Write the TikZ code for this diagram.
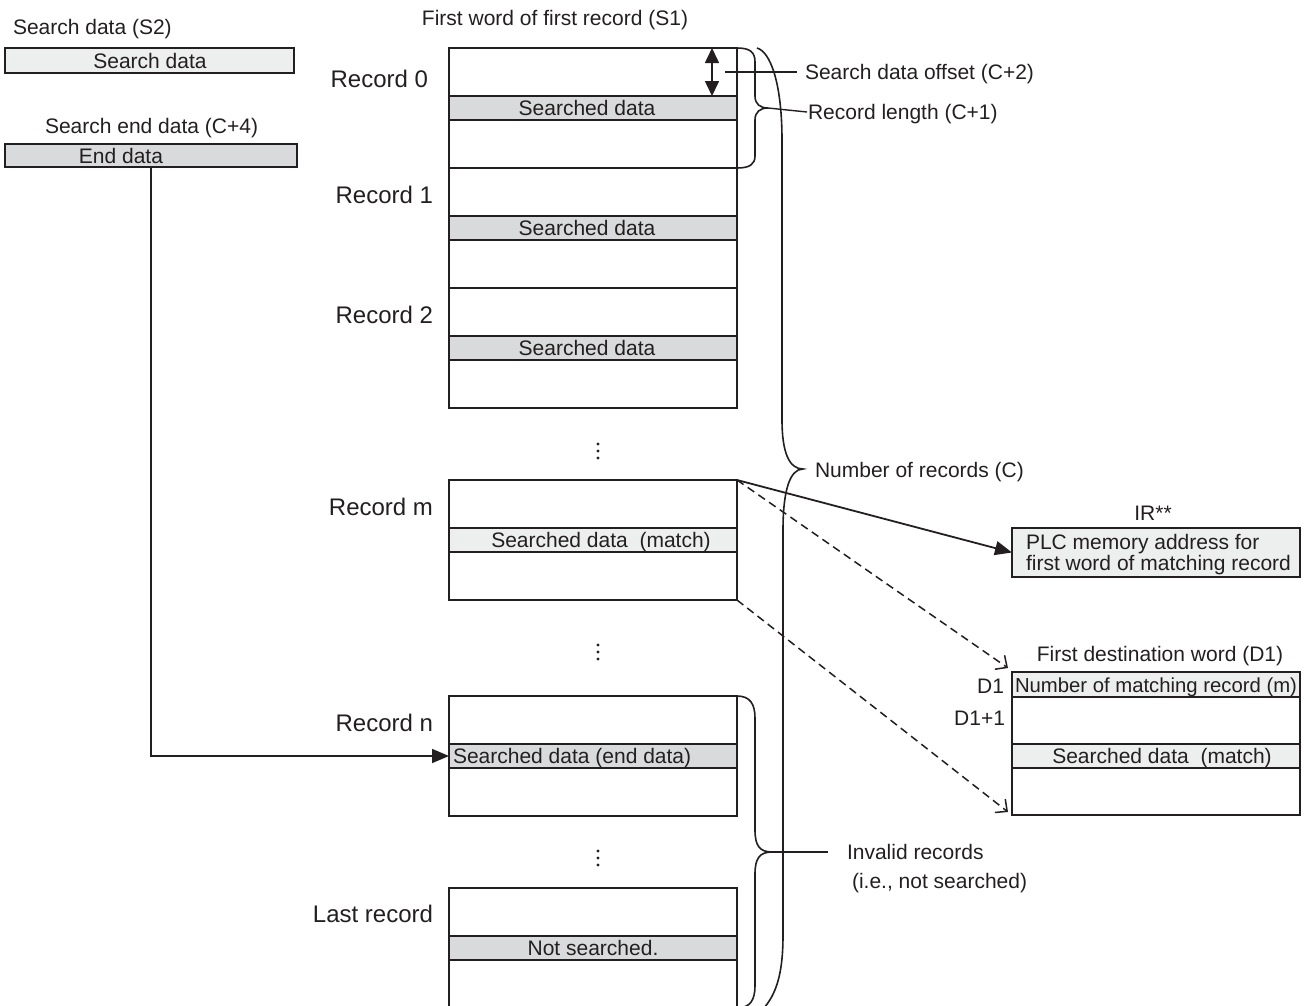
\documentclass[tikz,border=0pt]{standalone}
\usepackage{fontspec}
\setmainfont{Liberation Sans}
\usetikzlibrary{arrows.meta}
\definecolor{lc}{RGB}{35,31,32}
\definecolor{lg}{RGB}{237,238,238}
\definecolor{dg}{RGB}{217,218,219}
\begin{document}
\begin{tikzpicture}[x=1pt,y=-1pt,
  txt/.style={inner sep=0pt, outer sep=0pt, font=\fontsize{21}{20}\selectfont, text height=15pt, text depth=0pt, text=lc},
  rlab/.style={inner sep=0pt, outer sep=0pt, font=\fontsize{24}{24}\selectfont, text height=17pt, text depth=0pt, text=lc, anchor=east},
  rec/.style={draw=lc, line width=1.8, inner sep=0, outer sep=0, anchor=north west, minimum width=288, minimum height=120},
  row/.style={draw=lc, line width=2.0, fill=#1, inner sep=0, outer sep=0, anchor=north west, minimum width=288, minimum height=24},
  box/.style={draw=lc, line width=1.8, fill=#1, inner sep=0, outer sep=0, anchor=north west},
  lead/.style={draw=lc, line width=1.4},
  brace/.style={draw=lc, line width=1.6},
  solidtip/.style={-{Triangle[length=17pt,width=14pt]}},
  barbtip/.style={-{Straight Barb[length=9pt,width=17pt,line width=1.5pt]}},
  dsh/.style={draw=lc, line width=1.5, dash pattern=on 8pt off 5pt}]
\useasboundingbox (0,0) rectangle (1304,1005);
\clip (0,0) rectangle (1304,1005);

% left side
\node[txt, anchor=west] (s2lab) at (13,27) {Search data (S2)};
\node[box=lg, minimum width=289, minimum height=25] (sd) at (5,48) {};
\node[txt] (sdt) at (150,60.5) {Search data};
\node[txt, anchor=west] (c4lab) at (45,126) {Search end data (C+4)};
\node[box=dg, minimum width=292, minimum height=23] (ed) at (5,144) {};
\node[txt] (edt) at (121,155.5) {End data};

% top label
\node[txt] (s1) at (555,18) {First word of first record (S1)};

% records
\node[rec] (r0) at (449,48) {};
\node[rec] (r1) at (449,168) {};
\node[rec] (r2) at (449,288) {};
\node[rec] (rm) at (449,480) {};
\node[rec] (rn) at (449,696) {};
\node[rec] (rl) at (449,888) {};
\node[row=dg] (r0d) at (449,96) {};
\node[row=dg] (r1d) at (449,216) {};
\node[row=dg] (r2d) at (449,336) {};
\node[row=lg] (rmd) at (449,528) {};
\node[row=dg] (rnd) at (449,744) {};
\node[row=dg] (rld) at (449,936) {};
\node[txt] (t0) at (587,108) {Searched data};
\node[txt] (t1) at (587,228) {Searched data};
\node[txt] (t2) at (587,348) {Searched data};
\node[txt] (tm) at (601,540) {Searched data\ \ (match)};
\node[txt, anchor=west] (tn) at (453,756) {Searched data (end data)};
\node[txt] (tl) at (593,948) {Not searched.};

\node[rlab] (l0) at (428,79) {Record 0};
\node[rlab] (l1) at (433,195) {Record 1};
\node[rlab] (l2) at (433,315) {Record 2};
\node[rlab] (lm) at (433,507) {Record m};
\node[rlab] (lnn) at (433,723) {Record n};
\node[rlab] (ll) at (433,914) {Last record};

% vertical dots
\foreach \yy in {444,451,458,645,652,659,851,858,865}
  \fill[lc] (598,\yy) circle (1.6);

% offset double arrow
\coordinate (dA) at ([xshift=-25]r0.north east);
\coordinate (dB) at ([xshift=-25]r0d.north east);
\draw[lc, line width=1.6, {Triangle[length=15pt,width=14pt]}-{Triangle[length=15pt,width=14pt]}] (dA) -- (dB);

% right labels
\node[txt, anchor=west] (so) at (805,72) {Search data offset (C+2)};
\node[txt, anchor=west] (rlen) at (808,112) {Record length (C+1)};
\node[txt, anchor=west] (nr) at (815,470) {Number of records (C)};
\node[txt, anchor=west] (inv) at (847,852) {Invalid records};
\node[txt, anchor=west] (inv2) at (852,881) {(i.e., not searched)};

\coordinate (offA) at (725,72);
\draw[lead] (offA) -- ([xshift=-8]so.west);

% record length brace
\coordinate (rltip) at (768,108);
\draw[brace] (r0.north east) .. controls (750,48) and (755,52) .. (755,62) -- (755,96)
  .. controls (755,104) and (760,108) .. (rltip)
  .. controls (760,108) and (755,112) .. (755,120) -- (755,156)
  .. controls (755,164) and (750,168) .. (r0.south east);
\draw[lead] (rltip) -- ([xshift=-1]rlen.west);

% number of records brace
\coordinate (nrtip) at (803,469);
\draw[brace] (757,48) .. controls (771,52) and (782,85) .. (782,140) -- (782,420)
  .. controls (782,452) and (789,469) .. (nrtip)
  .. controls (790,469) and (783,490) .. (783,530) -- (783,935)
  .. controls (783,975) and (776,998) .. (758,1014);

% invalid records brace
\coordinate (invtip) at (772,852);
\draw[brace] (rn.north east) .. controls (750,696) and (755,704) .. (755,718) -- (755,830)
  .. controls (755,846) and (760,852) .. (invtip)
  .. controls (760,852) and (755,858) .. (755,874) -- (755,986)
  .. controls (755,1000) and (750,1008) .. (rl.south east);
\draw[lead] (invtip) -- ([xshift=-19]inv.west);

% IR box
\node[txt] (ir) at (1153,513) {IR**};
\node[box=lg, minimum width=288, minimum height=49] (plc) at (1012,528) {};
\node[txt, anchor=west] (plc1) at (1026,542) {PLC memory address for};
\node[txt, anchor=west] (plc2) at (1026,563) {first word of matching record};

% destination
\node[txt] (fdw) at (1160,654) {First destination word (D1)};
\node[box=white, minimum width=288, minimum height=143] (dest) at (1012,672) {};
\node[row=lg, minimum height=25, line width=1.8] (d1) at (1012,672) {};
\node[row=lg, line width=1.8] (d3) at (1012,744) {};
\node[txt, anchor=west, font=\fontsize{20.3}{20}\selectfont] (d1t) at (1015,685) {Number of matching record (m)};
\node[txt] (d3t) at (1162,756) {Searched data\ \ (match)};
\node[txt, anchor=east] (d1l) at (1004,686) {D1};
\node[txt, anchor=east] (d2l) at (1005,718) {D1+1};

% connectors
\draw[lc, line width=1.6, solidtip] (ed.south) |- (rnd.west);
\draw[lc, line width=1.8, solidtip] (rm.north east) -- (plc.west);
\coordinate (da) at ([shift={(-4,-4)}]dest.north west);
\coordinate (db) at ([shift={(-4,-3)}]dest.south west);
\draw[dsh, barbtip] (rm.north east) -- (da);
\draw[dsh, barbtip] (rm.south east) -- (db);
\end{tikzpicture}
\end{document}
